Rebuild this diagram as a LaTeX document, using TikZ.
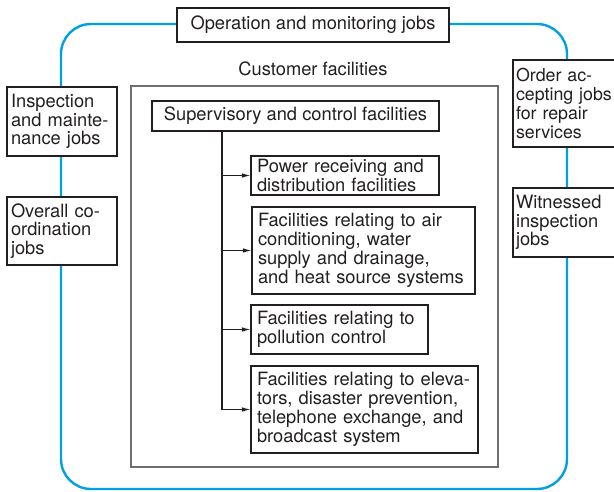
\documentclass[tikz,border=0pt]{standalone}
\usepackage{fontspec}
\setmainfont{TeX Gyre Heros}
\usepackage{tikz}
\usetikzlibrary{arrows.meta}

\definecolor{jobblue}{RGB}{0,160,226}
\definecolor{inkgray}{RGB}{35,31,32}
\definecolor{framegray}{RGB}{110,110,112}

\begin{document}
\begin{tikzpicture}[x=1pt, y=-1pt,
        every node/.style={font=\fontsize{18.3}{18.8}\selectfont, text=inkgray},
        jobbox/.style={draw=inkgray, line width=1.1pt, fill=white, inner xsep=4pt, align=left},
        facbox/.style={draw=inkgray, line width=1.1pt, fill=white, inner xsep=6pt, align=left},
        custbox/.style={draw=framegray, line width=1.2pt},
        feed/.style={draw=inkgray, line width=1.1pt, -{Latex[length=8.5pt,width=4.5pt]}}]
        \useasboundingbox (0,0) rectangle (614,491);

        % we draw the loop of jobs around the customer
        \draw[jobblue, line width=2.4pt, rounded corners=30pt] (61,24) rectangle (567,489);

        % we draw the jobs sitting on the loop
        \node[jobbox, minimum width=272pt, minimum height=34pt, align=center] (ops) at (313,25) {Operation and monitoring jobs};
        \node[jobbox, text width=102pt, minimum height=69pt] (insp) at (62,121.5) {Inspection\\and mainte-\\nance jobs};
        \node[jobbox, text width=102pt, minimum height=68pt] (overall) at (62,231) {Overall co-\\ordination\\jobs};
        \node[jobbox, inner xsep=3pt, text width=102pt, minimum height=87pt, font=\fontsize{17.8}{18.8}\selectfont] (order) at (567,103.5) {Order ac-\\cepting jobs\\for repair\\services};
        \node[jobbox, inner xsep=3pt, text width=102pt, minimum height=69pt] (witness) at (567,222.5) {Witnessed\\inspection\\jobs};

        % we draw the customer facilities
        \node (custlabel) at (313,69) {Customer facilities};
        \node[custbox, minimum width=367pt, minimum height=381pt] (cust) at (314.5,276.5) {};

        \node[facbox, minimum width=287pt, minimum height=30pt, align=center] (sup) at (295.5,116) {Supervisory and control facilities};
        \node[facbox, text width=176pt, minimum height=39pt] (power) at (345,175.5) {Power receiving and\\distribution facilities};
        \node[facbox, text width=211pt, minimum height=87pt] (air) at (363.5,250.5) {Facilities relating to air\\conditioning, water\\supply and drainage,\\and heat source systems};
        \node[facbox, text width=165pt, minimum height=49pt] (poll) at (339.5,329.5) {Facilities relating to\\pollution control};
        \node[facbox, text width=215pt, minimum height=87pt] (elev) at (364.5,409.5) {Facilities relating to eleva-\\tors, disaster prevention,\\telephone exchange, and\\broadcast system};

        % we connect the supervisory box to each facility
        \coordinate (trunk) at (222,131);
        \draw[inkgray, line width=1.1pt] (trunk) -- (trunk |- elev.west);
        \foreach \fac in {power,air,poll,elev}
            \draw[feed] (trunk |- \fac.west) -- (\fac.west);
    \end{tikzpicture}
\end{document}
